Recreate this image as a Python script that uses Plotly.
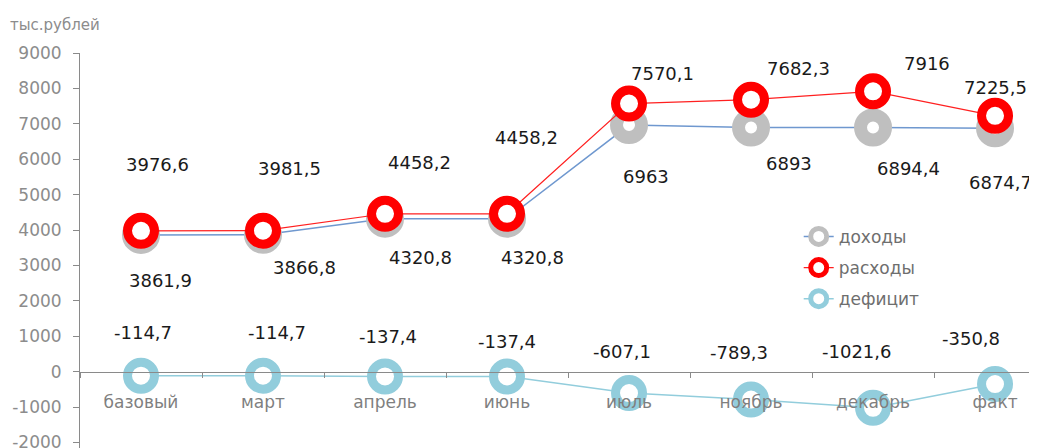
import plotly.graph_objects as go

categories = ["базовый", "март", "апрель", "июнь", "июль", "ноябрь", "декабрь", "факт"]
income = [3861.9, 3866.8, 4320.8, 4320.8, 6963, 6893, 6894.4, 6874.7]
expenses = [3976.6, 3981.5, 4458.2, 4458.2, 7570.1, 7682.3, 7916, 7225.5]
deficit = [-114.7, -114.7, -137.4, -137.4, -607.1, -789.3, -1021.6, -350.8]
y_ticks = [-2000, -1000, 0, 1000, 2000, 3000, 4000, 5000, 6000, 7000, 8000, 9000]

# label offsets in pixels (dx, dy upward)
exp_off = [(16, 66), (26, 62), (34, 51), (19, 76), (33, 30), (47, 31), (54, 28), (0, 28)]
inc_off = [(19, -46), (41, -33), (35, -39), (25, -39), (17, -51), (38, -36), (35, -41), (5, -54)]
def_off = [(2, 43), (14, 43), (3, 40), (0, 35), (-7, 42), (-12, 47), (-17, 56), (-24, 46)]

FONT = "DejaVu Sans"
Y0, Y1 = -2158, 9000

def fmt(v):
    s = ("%.1f" % v).rstrip("0").rstrip(".")
    return s.replace(".", ",")

fig = go.Figure()
fig.add_trace(go.Scatter(
    x=categories, y=income, name="доходы", mode="lines+markers", legendgroup="a",
    line=dict(color="#6F98CF", width=1.5),
    marker=dict(size=25, color="white", line=dict(color="#BFBFBF", width=13)),
))
fig.add_trace(go.Scatter(
    x=categories, y=expenses, name="расходы", mode="lines+markers", legendgroup="b",
    line=dict(color="#FF2020", width=1.2),
    marker=dict(size=27, color="white", line=dict(color="#FF0000", width=9)),
))
fig.add_trace(go.Scatter(
    x=categories, y=deficit, name="дефицит", mode="lines+markers", legendgroup="c",
    line=dict(color="#92CDDC", width=1.5),
    marker=dict(size=27, color="white", line=dict(color="#92CDDC", width=9)),
))

annotations = []
for series, offs in ((expenses, exp_off), (income, inc_off), (deficit, def_off)):
    for c, v, (dx, dy) in zip(categories, series, offs):
        annotations.append(dict(
            x=c, y=v, xref="x", yref="y", text=fmt(v), showarrow=False,
            xshift=dx, yshift=dy, xanchor="center", yanchor="middle",
            font=dict(family=FONT, size=18, color="#1a1a1a"),
        ))
annotations.append(dict(
    x=-0.075, y=1.07, xref="paper", yref="paper", text="тыс.рублей",
    showarrow=False, xanchor="left", yanchor="middle",
    font=dict(family=FONT, size=15, color="#8c8c8c"),
))

fig.update_layout(
    width=1029, height=440,
    margin=dict(l=72, r=0, t=45, b=0, autoexpand=False),
    paper_bgcolor="white", plot_bgcolor="white",
    font=dict(family=FONT),
    annotations=annotations,
    showlegend=True,
    legend=dict(
        x=0.751, y=0.58, xanchor="left", yanchor="top",
        font=dict(family=FONT, size=17, color="#6e6e6e"),
        bgcolor="rgba(0,0,0,0)", traceorder="grouped", tracegroupgap=6,
    ),
    xaxis=dict(
        type="category", range=[-0.5, 7.344], automargin=False,
        anchor="free", position=(0 - Y0) / (Y1 - Y0),
        showline=True, linecolor="#8a8a8a", linewidth=1,
        ticks="outside", tickson="boundaries", ticklen=5, tickcolor="#8a8a8a",
        ticklabelstandoff=15,
        tickfont=dict(family=FONT, size=17, color="#7f7f7f"),
        showgrid=False, zeroline=False,
    ),
    yaxis=dict(
        range=[Y0, Y1], tickvals=y_ticks, ticktext=[str(t) for t in y_ticks],
        automargin=False,
        showline=True, linecolor="#8a8a8a", linewidth=1,
        ticks="outside", ticklen=6, tickcolor="#8a8a8a",
        ticklabelstandoff=8, ticklabeloverflow="allow",
        tickfont=dict(family=FONT, size=17, color="#8c8c8c"),
        showgrid=False, zeroline=False,
    ),
)

fig.write_html("out.html")
